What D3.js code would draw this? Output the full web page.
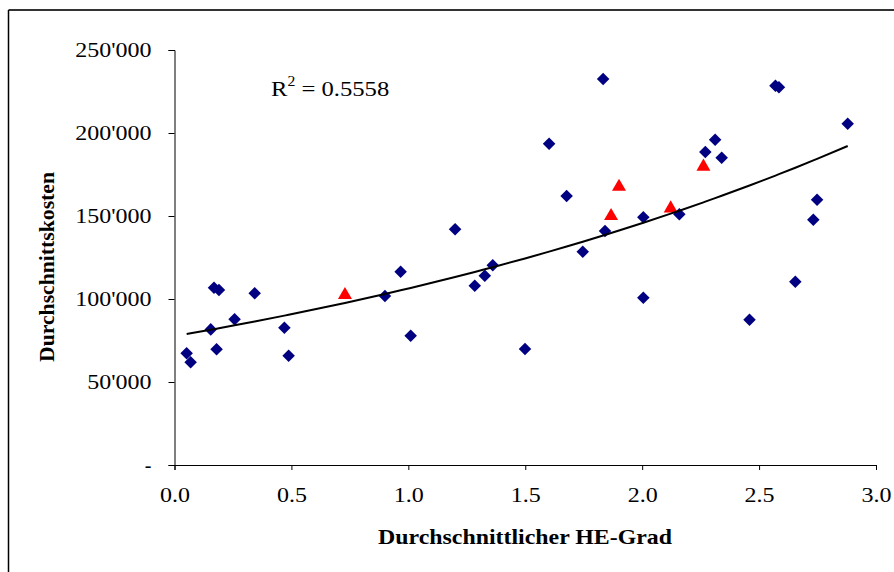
<!DOCTYPE html>
<html><head><meta charset="utf-8">
<script src="https://cdn.jsdelivr.net/npm/d3@7"></script>
<style>body{margin:0;background:#fff}svg{display:block}</style>
</head><body>
<svg id="c" width="894" height="572"></svg>
<script>
// Data
const diamondX = [0.052,0.069,0.155,0.169,0.190,0.180,0.257,0.343,0.470,0.488,0.900,0.967,1.010,1.200,1.284,1.327,1.361,1.499,1.602,1.677,1.746,1.833,1.841,2.005,2.005,2.159,2.270,2.312,2.340,2.459,2.570,2.585,2.655,2.732,2.748,2.879];
const diamondY = [67300,61900,81700,106800,105400,69700,87800,103400,82700,65800,101800,116400,77900,142000,108000,114000,120300,69900,193500,162000,128500,232500,141000,149200,100800,151000,188500,196000,185100,87500,228500,227500,110400,147800,159800,205600];
const triangleX = [0.729,1.867,1.901,2.122,2.262];
const triangleY = [102400,150000,167600,154600,179700];
const trendA = 77600, trendB = 0.315; // exponential trendline y = a*e^(b*x)
const xTicks = [0,0.5,1.0,1.5,2.0,2.5,3.0];
const yTicks = [0,50000,100000,150000,200000,250000];
const rSquared = "0.5558";
const xTitle = "Durchschnittlicher HE-Grad";
const yTitle = "Durchschnittskosten";

const svg = d3.select("#c");
const font = "'Liberation Serif','Times New Roman',serif";
const L = 174.5, R = 876, T = 50, B = 465;
const x = d3.scaleLinear().domain([0,3]).range([L,R]);
const y = d3.scaleLinear().domain([0,250000]).range([B,T]);

// outer frame (top and left edges visible)
svg.append("line").attr("x1",8.5).attr("x2",894).attr("y1",10).attr("y2",10).attr("stroke","#333").attr("stroke-width",2);
svg.append("line").attr("x1",8.5).attr("x2",8.5).attr("y1",10).attr("y2",572).attr("stroke","#000").attr("stroke-width",1.5);

const fmtY = v => v===0 ? "-" : d3.format(",")(v).replace(/,/g,"'");
const stretch = (sel,f) => sel.each(function(){
  const w=this.getComputedTextLength(); d3.select(this).attr("textLength",w*f).attr("lengthAdjust","spacingAndGlyphs");
});

const yAx = svg.append("g").attr("transform",`translate(${L},0)`)
  .call(d3.axisLeft(y).tickValues(yTicks).tickSize(6).tickPadding(17).tickFormat(fmtY));
const xAx = svg.append("g").attr("transform",`translate(0,${B})`)
  .call(d3.axisBottom(x).tickValues(xTicks).tickSize(5).tickPadding(18).tickFormat(d3.format(".1f")));
[yAx,xAx].forEach(g=>{
  g.select(".domain").attr("stroke","#000").attr("stroke-width",1);
  g.selectAll(".tick line").attr("stroke","#000");
  g.selectAll("text").attr("font-family",font).attr("font-size",20).attr("fill","#000");
});
stretch(yAx.selectAll("text").filter(function(){return d3.select(this).text()!=="-";}),1.2);
stretch(xAx.selectAll("text"),1.2);

// points
const diamond = d3.symbol().type(d3.symbolDiamond2).size(100);
svg.append("g").selectAll("path").data(diamondX.map((v,i)=>[v,diamondY[i]])).join("path")
  .attr("d",diamond).attr("transform",d=>`translate(${x(d[0])},${y(d[1])})`).attr("fill","#000080");
const tri = d3.symbol().type(d3.symbolTriangle).size(85);
svg.append("g").selectAll("path").data(triangleX.map((v,i)=>[v,triangleY[i]])).join("path")
  .attr("d",tri).attr("transform",d=>`translate(${x(d[0])},${y(d[1])})`).attr("fill","#ff0000");

// trendline drawn through the sorted x values of all points
const allX = diamondX.concat(triangleX).slice().sort((a,b)=>a-b);
const xs = allX.filter(v=>v>=d3.min(diamondX) && v<=d3.max(diamondX));
svg.append("path").datum(xs).attr("fill","none").attr("stroke","#000").attr("stroke-width",2)
  .attr("d",d3.line().x(d=>x(d)).y(d=>y(trendA*Math.exp(trendB*d))));

// R² label
const rt = svg.append("text").attr("x",271).attr("y",96).attr("font-family",font).attr("font-size",22).attr("fill","#000");
rt.append("tspan").text("R");
rt.append("tspan").attr("dy",-10).attr("font-size",14).text("2");
rt.append("tspan").attr("dy",10).text(" = " + rSquared);
stretch(rt,1.12);

// axis titles
const xt = svg.append("text").attr("x",525).attr("y",544).attr("text-anchor","middle").attr("font-family",font)
  .attr("font-weight","bold").attr("font-size",21).text(xTitle);
xt.attr("textLength",294).attr("lengthAdjust","spacingAndGlyphs");
const yt = svg.append("text").attr("transform","translate(54,267) rotate(-90)").attr("text-anchor","middle").attr("font-family",font)
  .attr("font-weight","bold").attr("font-size",20).text(yTitle);
yt.attr("textLength",190).attr("lengthAdjust","spacingAndGlyphs");
</script>
</body></html>
